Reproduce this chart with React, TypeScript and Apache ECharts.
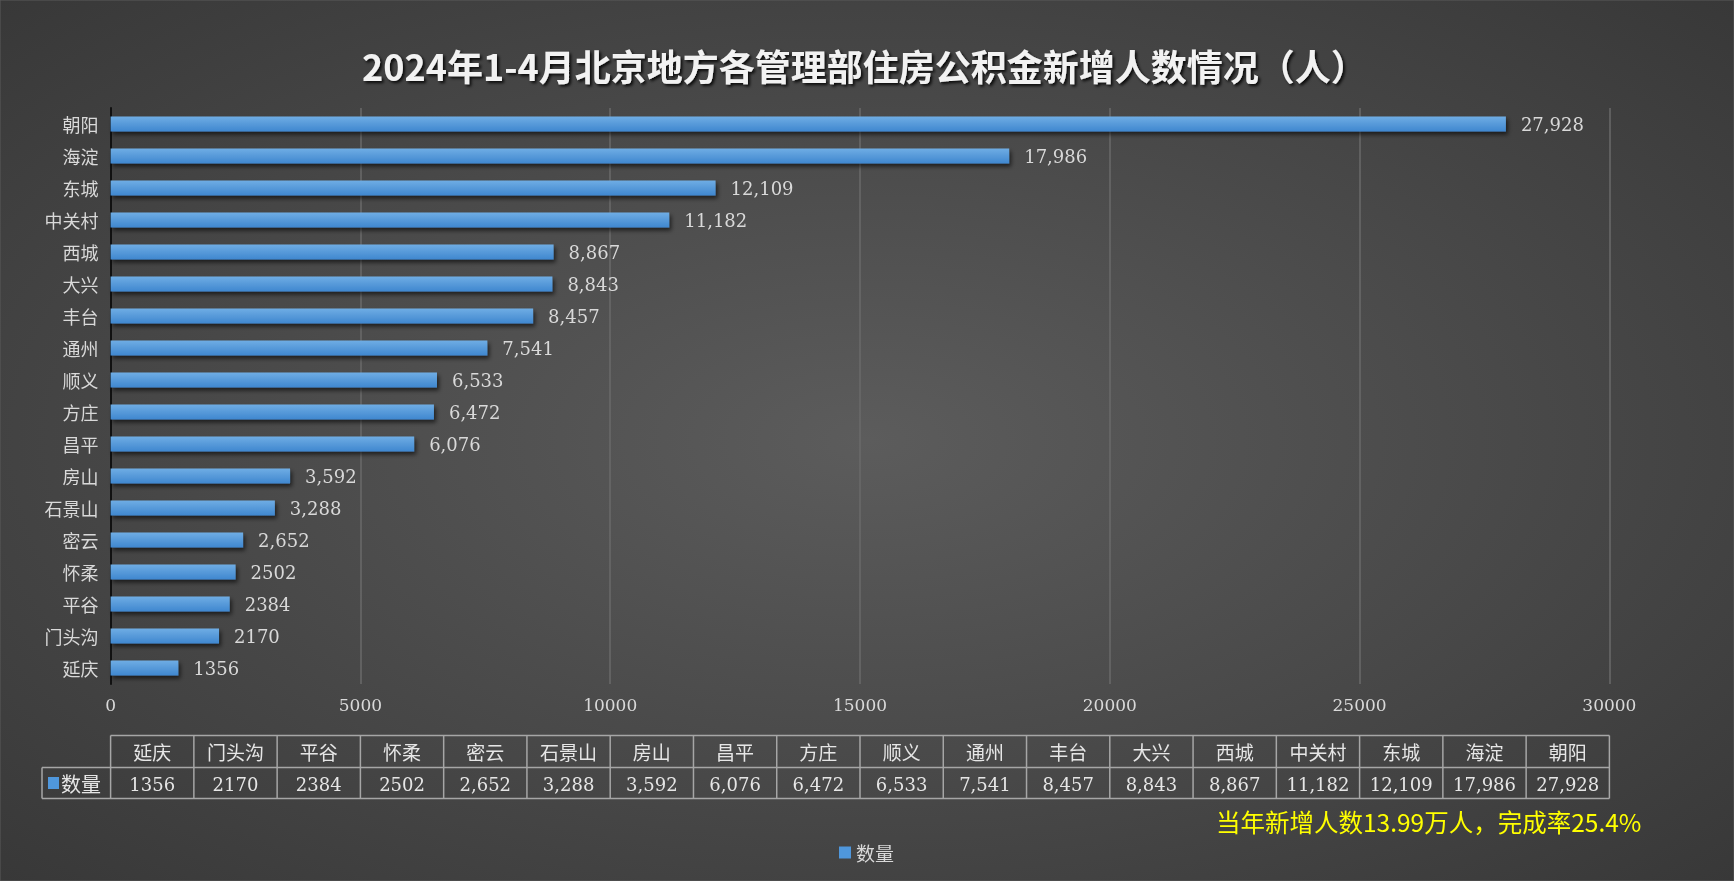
import React, { useEffect, useRef } from "react";
import * as echarts from "echarts";

const W = 1734;
const H = 881;

const categories = ["延庆", "门头沟", "平谷", "怀柔", "密云", "石景山", "房山", "昌平", "方庄", "顺义", "通州", "丰台", "大兴", "西城", "中关村", "东城", "海淀", "朝阳"];
const values = [1356, 2170, 2384, 2502, 2652, 3288, 3592, 6076, 6472, 6533, 7541, 8457, 8843, 8867, 11182, 12109, 17986, 27928];
const valueTexts = ["1356", "2170", "2384", "2502", "2,652", "3,288", "3,592", "6,076", "6,472", "6,533", "7,541", "8,457", "8,843", "8,867", "11,182", "12,109", "17,986", "27,928"];
const seriesName = "数量";
const titleText = "2024年1-4月北京地方各管理部住房公积金新增人数情况（人）";
const noteText = "当年新增人数13.99万人，完成率25.4%";
const xMax = 30000;
const xInterval = 5000;

const GRID_L = 110.6;
const GRID_R = 1609.4;
const GRID_T = 108;
const GRID_B = 684;

const CJK = "'Noto Sans CJK SC', sans-serif";
const SERIF = "'DejaVu Serif', serif";
const TXT = "#d9d9d9";
const LINE = "#a6a6a6";

function buildTable() {
  const els: any[] = [];
  const n = categories.length;
  const colW = (GRID_R - GRID_L) / n;
  const y0 = 735.5, y1 = 767.5, y2 = 798.5;
  const legendL = 42;
  els.push({ type: "line", shape: { x1: GRID_L, y1: y0, x2: GRID_R, y2: y0 }, style: { stroke: LINE, lineWidth: 1.5 } });
  els.push({ type: "line", shape: { x1: legendL, y1: y1, x2: GRID_R, y2: y1 }, style: { stroke: LINE, lineWidth: 1.5 } });
  els.push({ type: "line", shape: { x1: legendL, y1: y2, x2: GRID_R, y2: y2 }, style: { stroke: LINE, lineWidth: 1.5 } });
  els.push({ type: "line", shape: { x1: legendL, y1: y1, x2: legendL, y2: y2 }, style: { stroke: LINE, lineWidth: 1.5 } });
  for (let i = 0; i <= n; i++) {
    const x = GRID_L + i * colW;
    els.push({ type: "line", shape: { x1: x, y1: y0, x2: x, y2: y2 }, style: { stroke: LINE, lineWidth: 1.5 } });
  }
  for (let i = 0; i < n; i++) {
    const cx = GRID_L + (i + 0.5) * colW;
    els.push({
      type: "text", x: cx, y: (y0 + y1) / 2,
      style: { text: categories[i], fill: "#e6e6e6", font: `19px ${CJK}`, align: "center", verticalAlign: "middle" },
    });
    els.push({
      type: "text", x: cx, y: (y1 + y2) / 2 + 1,
      style: { text: valueTexts[i], fill: "#e6e6e6", font: `18px ${SERIF}`, align: "center", verticalAlign: "middle" },
    });
  }
  els.push({ type: "rect", shape: { x: 48, y: (y1 + y2) / 2 - 6, width: 11, height: 12 }, style: { fill: "#4f97dc" } });
  els.push({
    type: "text", x: 61, y: (y1 + y2) / 2,
    style: { text: seriesName, fill: "#e6e6e6", font: `20px ${CJK}`, align: "left", verticalAlign: "middle" },
  });
  return els;
}

export default function App() {
  const ref = useRef<HTMLDivElement>(null);
  useEffect(() => {
    if (!ref.current) return;
    const chart = echarts.init(ref.current, null, { renderer: "svg" });
    const option: any = {
      animation: false,
      title: {
        text: titleText,
        left: 357,
        top: 42,
        textStyle: {
          color: "#f2f2f2",
          fontSize: 36,
          fontWeight: "bold",
          fontFamily: CJK,
          textShadowColor: "rgba(0,0,0,0.85)",
          textShadowBlur: 3,
          textShadowOffsetX: 2,
          textShadowOffsetY: 2,
        },
      },
      legend: {
        data: [{ name: seriesName, itemStyle: { color: "#4f97dc" } }],
        left: 834,
        top: 838,
        icon: "rect",
        itemWidth: 12,
        itemHeight: 12,
        itemGap: 6,
        textStyle: { color: TXT, fontSize: 19, fontFamily: CJK },
      },
      grid: { left: GRID_L, right: W - GRID_R, top: GRID_T, bottom: H - GRID_B, containLabel: false },
      xAxis: {
        type: "value",
        min: 0,
        max: xMax,
        interval: xInterval,
        axisLine: { show: false },
        axisTick: { show: false },
        axisLabel: { color: TXT, fontSize: 17, fontFamily: SERIF, margin: 12, formatter: (v: number) => String(v) },
        splitLine: { show: true, lineStyle: { color: "#6a6a6a", width: 1.5 } },
      },
      yAxis: {
        type: "category",
        data: categories,
        axisLine: { show: true, lineStyle: { color: "#111111", width: 2 } },
        axisTick: { show: false },
        axisLabel: { color: TXT, fontSize: 18, fontFamily: CJK, margin: 12 },
      },
      series: [
        {
          name: seriesName,
          type: "bar",
          data: values,
          barWidth: 15,
          itemStyle: {
            color: new echarts.graphic.LinearGradient(0, 0, 0, 1, [
              { offset: 0, color: "#6fade4" },
              { offset: 1, color: "#3f87cf" },
            ]),
            shadowColor: "rgba(0,0,0,0.6)",
            shadowBlur: 4,
            shadowOffsetX: 2,
            shadowOffsetY: 3,
          },
          label: {
            show: true,
            position: "right",
            distance: 15,
            color: TXT,
            fontSize: 18,
            fontFamily: SERIF,
            formatter: (p: any) => valueTexts[p.dataIndex],
          },
        },
      ],
      graphic: [
        {
          type: "rect",
          z: -100,
          silent: true,
          shape: { x: 0, y: 0, width: W, height: H },
          style: {
            fill: new echarts.graphic.RadialGradient(0.5, 0.5, 1.1, [
              { offset: 0, color: "#5c5c5c" },
              { offset: 1, color: "#242424" },
            ]),
            stroke: "#5a5a5a",
            lineWidth: 1,
          },
        },
        ...buildTable(),
        {
          type: "text",
          x: 1216,
          y: 821,
          style: { text: noteText, fill: "#ffff00", font: `24.5px ${CJK}`, align: "left", verticalAlign: "middle" },
        },
      ],
    };
    chart.setOption(option);
    return () => chart.dispose();
  }, []);
  return <div ref={ref} style={{ position: "fixed", left: 0, top: 0, width: W, height: H }} />;
}
